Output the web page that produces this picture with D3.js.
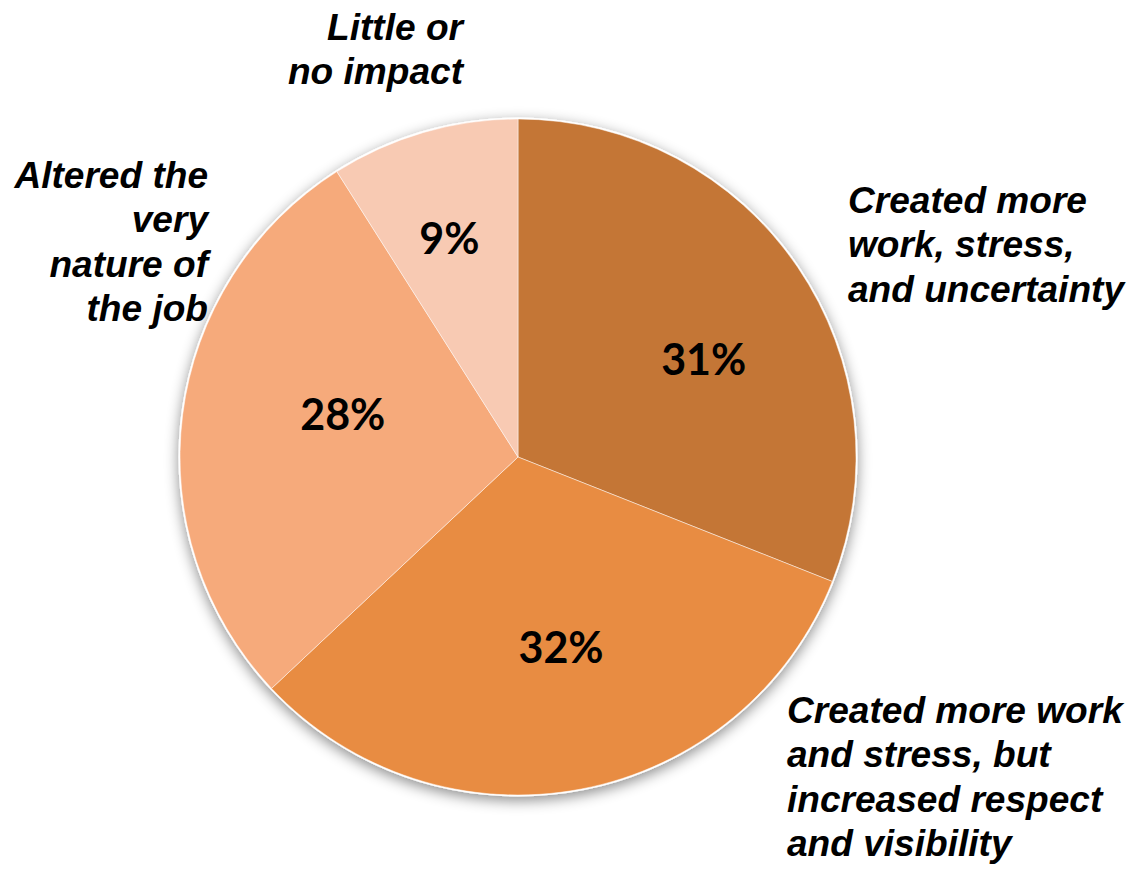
<!DOCTYPE html>
<html>
<head>
<meta charset="utf-8">
<script src="https://cdn.jsdelivr.net/npm/d3@7/dist/d3.min.js"></script>
<style>
  html, body { margin: 0; padding: 0; background: #fff; }
  svg { display: block; }
</style>
</head>
<body>
<svg id="chart" width="1130" height="869"></svg>
<script>
// ---- data ----
const categories = [
  "Created more work, stress, and uncertainty",
  "Created more work and stress, but increased respect and visibility",
  "Altered the very nature of the job",
  "Little or no impact"
];
const values = [31, 32, 28, 9];
const labelLines = [
  ["Created more", "work, stress,", "and uncertainty"],
  ["Created more work", "and stress, but", "increased respect", "and visibility"],
  ["Altered the", "very", "nature of", "the job"],
  ["Little or", "no impact"]
];
const colors = ["#C47636", "#E88C42", "#F6AA7B", "#F8CAB3"];

// ---- layout ----
const W = 1130, H = 869;
const cx = 518, cy = 457, R = 338;
const pctNudge = [[18, 17], [5, -9], [26, -17], [-12, -24]];
const catLayout = [
  { x: 848, y: 213, anchor: "start" },
  { x: 787, y: 723, anchor: "start" },
  { x: 208, y: 188, anchor: "end" },
  { x: 463, y: 40, anchor: "end" }
];
const lineH = 44.5;
const stretchX = 1.03;

const svg = d3.select("#chart");
const defs = svg.append("defs");
const f = defs.append("filter").attr("id", "shadow")
  .attr("x", "-20%").attr("y", "-20%").attr("width", "140%").attr("height", "140%");
f.append("feDropShadow").attr("dx", 0).attr("dy", 4)
  .attr("stdDeviation", 7).attr("flood-color", "#000").attr("flood-opacity", 0.45);

const g = svg.append("g").attr("transform", `translate(${cx},${cy})`);

const pie = d3.pie().sort(null).value(d => d)(values);
const arc = d3.arc().innerRadius(0).outerRadius(R);
const labelArc = d3.arc().innerRadius(R * 0.6).outerRadius(R * 0.6);

// shadow base with white rim
g.append("circle").attr("r", R + 1.5).attr("fill", "#fff").attr("filter", "url(#shadow)");

g.selectAll("path.slice").data(pie).join("path")
  .attr("class", "slice")
  .attr("d", arc)
  .attr("fill", (d, i) => colors[i])
  .attr("stroke", "rgba(255,255,255,0.6)")
  .attr("stroke-width", 0.8);

g.selectAll("text.pct").data(pie).join("text")
  .attr("class", "pct")
  .attr("transform", (d, i) => {
    const c = labelArc.centroid(d);
    return `translate(${c[0] + pctNudge[i][0]},${c[1] + pctNudge[i][1]})`;
  })
  .attr("text-anchor", "middle")
  .attr("dy", "0.36em")
  .attr("font-family", "Lato, 'Open Sans', sans-serif")
  .attr("font-weight", 700)
  .attr("font-size", 43)
  .attr("fill", "#000")
  .text(d => d.data + "%");

// category labels
categories.forEach((c, i) => {
  const L = catLayout[i];
  const t = svg.append("text")
    .attr("transform", `translate(${L.x},${L.y}) scale(${stretchX},1)`)
    .attr("text-anchor", L.anchor)
    .attr("font-family", "'Liberation Sans', Arial, sans-serif")
    .attr("font-weight", 700)
    .attr("font-style", "italic")
    .attr("font-size", 36)
    .attr("fill", "#000")
    .attr("aria-label", c);
  labelLines[i].forEach((ln, j) => {
    t.append("tspan").attr("x", 0).attr("y", j * lineH).text(ln);
  });
});
</script>
</body>
</html>
